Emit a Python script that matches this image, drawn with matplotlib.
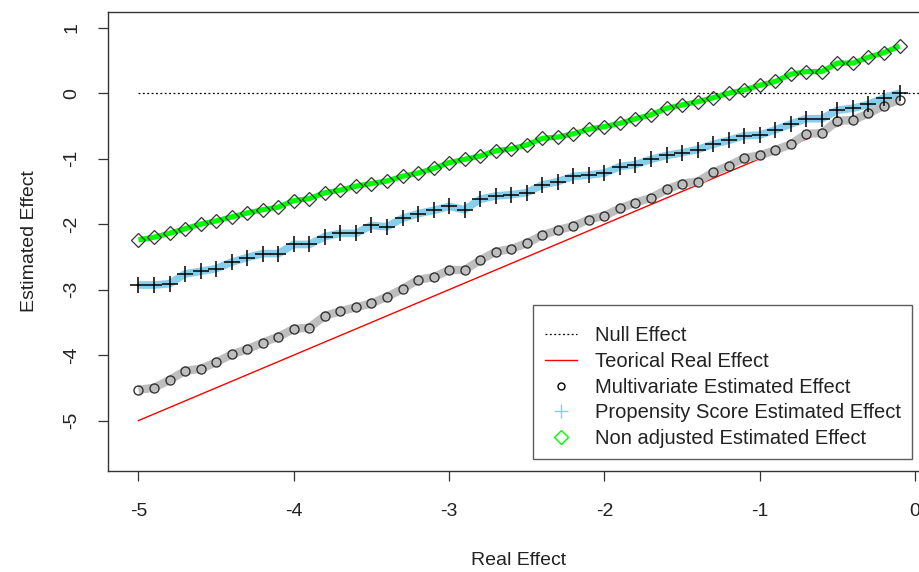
import matplotlib.pyplot as plt
from matplotlib.lines import Line2D
import numpy as np

plt.rcParams['font.family'] = ['Liberation Sans', 'DejaVu Sans']

real_effect = [round(-5 + 0.1 * i, 1) for i in range(50)]

multivariate = [-4.53, -4.50, -4.38, -4.24, -4.21, -4.11, -3.99, -3.91, -3.81, -3.72,
                -3.60, -3.58, -3.40, -3.33, -3.27, -3.21, -3.11, -2.99, -2.85, -2.81,
                -2.70, -2.70, -2.55, -2.42, -2.38, -2.29, -2.17, -2.09, -2.03, -1.93,
                -1.87, -1.76, -1.67, -1.60, -1.47, -1.38, -1.35, -1.21, -1.11, -0.99,
                -0.95, -0.87, -0.78, -0.62, -0.61, -0.42, -0.41, -0.31, -0.19, -0.10]

propensity = [-2.93, -2.93, -2.91, -2.76, -2.72, -2.68, -2.58, -2.51, -2.45, -2.45,
              -2.31, -2.31, -2.19, -2.14, -2.14, -2.02, -2.04, -1.91, -1.84, -1.79,
              -1.73, -1.78, -1.62, -1.57, -1.55, -1.52, -1.40, -1.35, -1.27, -1.25,
              -1.22, -1.12, -1.09, -1.01, -0.95, -0.91, -0.86, -0.78, -0.72, -0.65,
              -0.64, -0.56, -0.47, -0.39, -0.39, -0.26, -0.23, -0.17, -0.07, 0.00]

non_adjusted = [-2.24, -2.20, -2.14, -2.07, -2.00, -1.95, -1.89, -1.83, -1.78, -1.74,
                -1.64, -1.61, -1.52, -1.48, -1.42, -1.38, -1.34, -1.27, -1.22, -1.15,
                -1.06, -1.01, -0.96, -0.88, -0.85, -0.79, -0.69, -0.67, -0.62, -0.55,
                -0.51, -0.46, -0.39, -0.33, -0.23, -0.18, -0.13, -0.07, 0.00, 0.05,
                0.12, 0.18, 0.29, 0.33, 0.33, 0.46, 0.46, 0.55, 0.62, 0.72]

x_ticks = [-5, -4, -3, -2, -1, 0]
y_ticks = [-5, -4, -3, -2, -1, 0, 1]

fig = plt.figure(figsize=(9.2, 5.72), dpi=100)
ax = fig.add_axes([108 / 920, 1 - 471 / 572, (930 - 108) / 920, (471 - 12) / 572])

ax.hlines(0, -5, 0.1, colors='black', linestyles=(0, (1.5, 2)), lw=0.9)
ax.plot(real_effect, real_effect, color='red', lw=1)

ax.plot(real_effect, multivariate, color='#bebebe', lw=6, solid_capstyle='butt', zorder=2)
ax.plot(real_effect, multivariate, 'o', mfc='none', mec='#333333', ms=6.5, mew=1, zorder=3)
ax.plot(real_effect, propensity, color='#87ceeb', lw=5.5, solid_capstyle='butt', zorder=2)
ax.plot(real_effect, propensity, '+', color='black', ms=11.5, mew=1.1, zorder=3)
ax.plot(real_effect, non_adjusted, color='#00ff00', lw=3.8, solid_capstyle='butt', zorder=2)
ax.plot(real_effect, non_adjusted, 'D', mfc='none', mec='#333333', ms=7.5, mew=0.9, zorder=3)

ax.set_xlim(-5.196, 0.096)
ax.set_ylim(-5.77, 1.24)
ax.set_xticks(x_ticks)
ax.set_xticklabels([str(t) for t in x_ticks])
ax.set_yticks(y_ticks)
ax.set_yticklabels([str(t) for t in y_ticks], rotation=90, va='center')
ax.tick_params(length=7, width=0.9, color='#333333', labelsize=14, labelcolor='#222222')
ax.tick_params(axis='x', pad=16)
ax.tick_params(axis='y', pad=13)
for s in ax.spines.values():
    s.set_color('#333333')
    s.set_linewidth(1)

ax.set_xlabel('Real Effect', fontsize=14, color='#222222', labelpad=23)
ax.set_ylabel('Estimated Effect', fontsize=14, color='#222222', labelpad=18)

handles = [
    Line2D([], [], color='black', linestyle=(0, (1.5, 2)), lw=0.9),
    Line2D([], [], color='red', lw=1),
    Line2D([], [], marker='o', linestyle='none', mfc='none', mec='black', ms=5),
    Line2D([], [], marker='+', linestyle='none', color='#87ceeb', ms=10, mew=1),
    Line2D([], [], marker='D', linestyle='none', mfc='none', mec='#00ff00', ms=7, mew=1),
]
labels = ['Null Effect', 'Teorical Real Effect', 'Multivariate Estimated Effect',
          'Propensity Score Estimated Effect', 'Non adjusted Estimated Effect']
# blank tiny title gives the extra room R leaves above the first entry
leg = ax.legend(handles, labels, loc='lower right', bbox_to_anchor=(912 / 920, 1 - 459 / 572),
                bbox_transform=fig.transFigure, fontsize=14.5, frameon=True, fancybox=False,
                edgecolor='#333333', handlelength=1.6, handletextpad=0.9, labelspacing=0.33,
                borderpad=0.55, borderaxespad=0, labelcolor='#222222',
                title=' ', title_fontsize=2)
leg.get_frame().set_linewidth(1)

plt.savefig('out.png', dpi=100)
